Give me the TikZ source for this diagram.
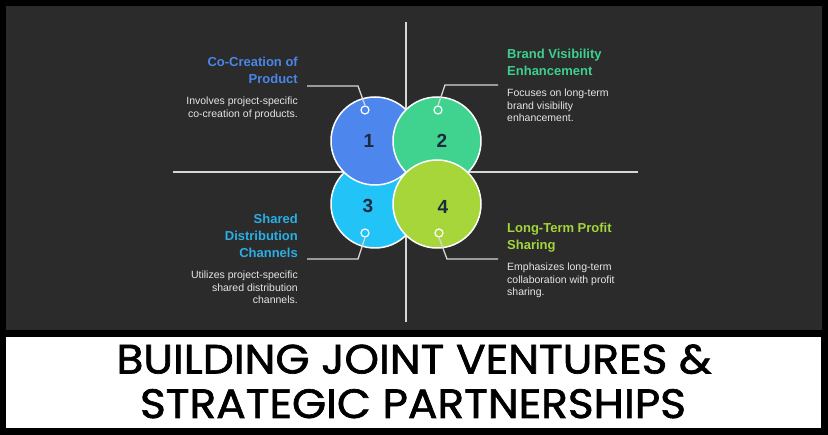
\documentclass[tikz,border=0pt]{standalone}
\usepackage{graphicx}
\usepackage{fontspec}
\setmainfont{Liberation Sans}
\newfontfamily\bannerfont[FakeBold=1.6]{Poppins}
\definecolor{panel}{HTML}{2B2B2B}
\definecolor{gridc}{HTML}{D6D6D6}
\definecolor{cblue}{HTML}{4D87EE}
\definecolor{cgreen}{HTML}{40D38F}
\definecolor{ccyan}{HTML}{22C3F7}
\definecolor{clime}{HTML}{A6D63A}
\definecolor{tblue}{HTML}{4A86E8}
\definecolor{tgreen}{HTML}{3ECF8E}
\definecolor{tcyan}{HTML}{2AAEE4}
\definecolor{tlime}{HTML}{A4D53A}
\definecolor{desc}{HTML}{E6E6E6}
\definecolor{numc}{HTML}{1B2A3D}
\tikzset{
  bigcirc/.style={circle, draw=white, line width=1.5pt, minimum size=88pt, inner sep=0pt},
  marker/.style={circle, draw=white, line width=1.2pt, minimum size=8pt, inner sep=0pt},
  numtxt/.style={text=numc, font=\bfseries\fontsize{19}{19}\selectfont, inner sep=0pt},
  gridline/.style={draw=gridc, line width=1.5pt},
  leader/.style={draw=gridc, line width=1.3pt},
  ttl/.style={font=\bfseries\fontsize{13}{17}\selectfont, inner sep=0pt},
  dsc/.style={text=desc, font=\fontsize{10.5}{12.5}\selectfont, inner sep=0pt},
  bannertxt/.style={anchor=base, inner sep=0pt, font=\bannerfont\fontsize{41}{41}\selectfont},
}
\begin{document}
\begin{tikzpicture}[x=1pt,y=-1pt]
\useasboundingbox (0,0) rectangle (828,435);
\fill[black] (0,0) rectangle (828,435);
\fill[panel] (6,6) rectangle (822,330);
\fill[white] (6,337) rectangle (821,428);

% quadrant lines
\coordinate (vt) at (406,22);
\coordinate (vb) at (406,322);
\coordinate (hl) at (173,172);
\coordinate (hr) at (638,172);
\draw[gridline] (vt) -- (vb);
\draw[gridline] (hl) -- (hr);

% circles (stacking order 3,1,2,4)
\node[bigcirc, fill=ccyan] (c3) at (375,204) {};
\node[bigcirc, fill=cblue] (c1) at (375,141) {};
\node[bigcirc, fill=cgreen] (c2) at (437,141) {};
\node[bigcirc, fill=clime] (c4) at (437,204) {};

\node[numtxt] (n1) at (369,141) {1};
\node[numtxt] (n2) at (442,141) {2};
\node[numtxt] (n3) at (368,206) {3};
\node[numtxt] (n4) at (443,207) {4};

\node[marker, fill=cblue] (m1) at (365,110) {};
\node[marker, fill=cgreen] (m2) at (438,110) {};
\node[marker, fill=ccyan] (m3) at (365,233) {};
\node[marker, fill=clime] (m4) at (439,233) {};

% leaders
\coordinate (k1) at (358,86);  \coordinate (e1) at (307,86);
\coordinate (k2) at (445,85);  \coordinate (e2) at (498,85);
\coordinate (k3) at (358,259); \coordinate (e3) at (307,259);
\coordinate (k4) at (447,259); \coordinate (e4) at (498,259);
\draw[leader] (m1.north) -- (k1) -- (e1);
\draw[leader] (m2.north) -- (k2) -- (e2);
\draw[leader] (m3.south) -- (k3) -- (e3);
\draw[leader] (m4.south) -- (k4) -- (e4);

% texts
\node[ttl, text=tblue, align=right, anchor=north east] (t1) at (298,56.5) {Co-Creation of\\Product};
\node[dsc, align=right, anchor=north east] (d1) at (298,97) {Involves project-specific\\co-creation of products.};

\node[ttl, text=tgreen, align=left, anchor=north west] (t2) at (507,48.5) {Brand Visibility\\Enhancement};
\node[dsc, align=left, anchor=north west] (d2) at (507,89) {Focuses on long-term\\brand visibility\\enhancement.};

\node[ttl, text=tcyan, align=right, anchor=north east] (t3) at (298,213.5) {Shared\\Distribution\\Channels};
\node[dsc, align=right, anchor=north east] (d3) at (298,271) {Utilizes project-specific\\shared distribution\\channels.};

\node[ttl, text=tlime, align=left, anchor=north west] (t4) at (507,222.5) {Long-Term Profit\\Sharing};
\node[dsc, align=left, anchor=north west] (d4) at (507,263) {Emphasizes long-term\\collaboration with profit\\sharing.};

% banner
\node[bannertxt] (b1) at (414,373.5) {\scalebox{1.07}[1]{BUILDING JOINT VENTURES \&}};
\node[bannertxt] (b2) at (413,418) {\scalebox{1.07}[1]{STRATEGIC PARTNERSHIPS}};
\end{tikzpicture}
\end{document}
